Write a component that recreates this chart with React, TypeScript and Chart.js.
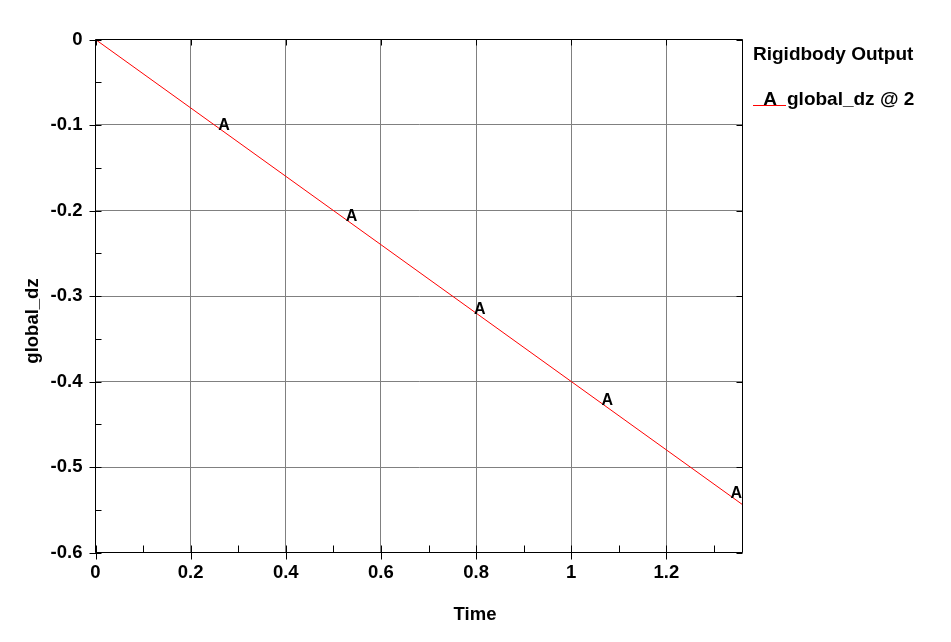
import { useEffect, useRef } from "react";
import Chart from "chart.js/auto";

// global_dz vs Time
const timeVals = [0, 0.2, 0.4, 0.6, 0.8, 1.0, 1.2, 1.36];
const dzVals = [0, -0.08, -0.16, -0.24, -0.32, -0.4, -0.48, -0.544];

// "A" symbols along the curve
const markerTimes = [0.27, 0.538, 0.808, 1.076, 1.347];
const markerDz = [-0.108, -0.215, -0.323, -0.43, -0.539];

const xTicks = [0, 0.2, 0.4, 0.6, 0.8, 1, 1.2];
const xTickLabels = ["0", "0.2", "0.4", "0.6", "0.8", "1", "1.2"];
const xMinorTicks = [0.1, 0.3, 0.5, 0.7, 0.9, 1.1, 1.3];
const yTicks = [0, -0.1, -0.2, -0.3, -0.4, -0.5, -0.6];
const yTickLabels = ["0", "-0.1", "-0.2", "-0.3", "-0.4", "-0.5", "-0.6"];
const yMinorTicks = [-0.05, -0.15, -0.25, -0.35, -0.45, -0.55];

const FONT = "'Liberation Sans', Arial, sans-serif";

const framePlugin = {
  id: "frame",
  afterDraw(chart: Chart) {
    const { ctx, chartArea: a, scales } = chart;
    const xs = scales.x;
    const ys = scales.y;
    ctx.save();
    ctx.strokeStyle = "#000";
    ctx.lineWidth = 1;
    ctx.beginPath();
    ctx.rect(a.left, a.top, a.right - a.left, a.bottom - a.top);
    xTicks.forEach((v) => {
      const px = Math.round(xs.getPixelForValue(v)) + 0.5;
      ctx.moveTo(px, a.bottom - 7);
      ctx.lineTo(px, a.bottom + 7);
      ctx.moveTo(px, a.top);
      ctx.lineTo(px, a.top + 6);
    });
    xMinorTicks.forEach((v) => {
      const px = Math.round(xs.getPixelForValue(v)) + 0.5;
      ctx.moveTo(px, a.bottom - 7);
      ctx.lineTo(px, a.bottom);
    });
    yTicks.forEach((v) => {
      const py = Math.round(ys.getPixelForValue(v)) + 0.5;
      ctx.moveTo(a.left - 6, py);
      ctx.lineTo(a.left + 6, py);
      ctx.moveTo(a.right - 6, py);
      ctx.lineTo(a.right, py);
    });
    yMinorTicks.forEach((v) => {
      const py = Math.round(ys.getPixelForValue(v)) + 0.5;
      ctx.moveTo(a.left, py);
      ctx.lineTo(a.left + 6, py);
    });
    ctx.stroke();

    ctx.fillStyle = "#000";

    // "A" symbols
    ctx.font = `bold 16px ${FONT}`;
    ctx.textAlign = "center";
    ctx.textBaseline = "alphabetic";
    chart.getDatasetMeta(1).data.forEach((pt) => {
      ctx.fillText("A", pt.x, pt.y - 2);
    });

    // axis titles
    ctx.font = `bold 18.5px ${FONT}`;
    ctx.fillText("Time", 475, 620);
    ctx.save();
    ctx.translate(38, 321);
    ctx.rotate(-Math.PI / 2);
    ctx.fillText("global_dz", 0, 0);
    ctx.restore();

    // legend
    ctx.font = `bold 19px ${FONT}`;
    ctx.textAlign = "left";
    ctx.fillText("Rigidbody Output", 753, 59.5);
    ctx.strokeStyle = "#ff0000";
    ctx.beginPath();
    ctx.moveTo(753, 105.5);
    ctx.lineTo(786, 105.5);
    ctx.stroke();
    ctx.textAlign = "center";
    ctx.fillText("A", 770, 105);
    ctx.textAlign = "left";
    ctx.fillText("global_dz @ 2", 787, 105);
    ctx.restore();
  },
};

const DzChart = () => {
  const chartRef = useRef<HTMLCanvasElement>(null);
  useEffect(() => {
    const chartInstance = new Chart(chartRef.current as HTMLCanvasElement, {
      type: "line",
      data: {
        datasets: [
          {
            label: "global_dz @ 2",
            data: timeVals.map((t, i) => ({ x: t, y: dzVals[i] })),
            borderColor: "#ff0000",
            borderWidth: 1,
            pointRadius: 0,
            tension: 0,
          },
          {
            label: "A",
            data: markerTimes.map((t, i) => ({ x: t, y: markerDz[i] })),
            showLine: false,
            pointRadius: 0,
            borderColor: "transparent",
          },
        ],
      },
      options: {
        animation: false,
        responsive: false,
        devicePixelRatio: 1,
        layout: { padding: { left: 0, top: 39.5, right: 208.5, bottom: 0 } },
        scales: {
          x: {
            type: "linear",
            min: 0,
            max: 1.36,
            afterBuildTicks: (s: any) => {
              s.ticks = xTicks.map((v) => ({ value: v }));
            },
            afterFit: (s: any) => {
              s.height = 89.5;
            },
            border: { display: false },
            grid: { color: "#808080", drawTicks: false, lineWidth: 1 },
            ticks: {
              padding: 9,
              color: "#000",
              maxRotation: 0,
              font: { family: FONT, size: 18.5, weight: "bold" },
              callback: (v: any) => xTickLabels[xTicks.indexOf(Number(v))] ?? "",
            },
          },
          y: {
            type: "linear",
            min: -0.6,
            max: 0,
            afterBuildTicks: (s: any) => {
              s.ticks = yTicks.map((v) => ({ value: v }));
            },
            afterFit: (s: any) => {
              s.width = 95.5;
            },
            border: { display: false },
            grid: { color: "#808080", drawTicks: false, lineWidth: 1 },
            ticks: {
              padding: 13,
              color: "#000",
              font: { family: FONT, size: 18.5, weight: "bold" },
              callback: (v: any) => yTickLabels[yTicks.indexOf(Number(v))] ?? "",
            },
          },
        },
        plugins: {
          legend: { display: false },
          title: { display: false },
          tooltip: { enabled: false },
        },
      },
      plugins: [framePlugin],
    });

    return () => chartInstance.destroy();
  }, []);

  return (
    <canvas
      ref={chartRef}
      width={951}
      height={642}
      style={{ position: "absolute", left: 0, top: 0, background: "#fff" }}
    />
  );
};

export default function App() {
  return <DzChart />;
}
